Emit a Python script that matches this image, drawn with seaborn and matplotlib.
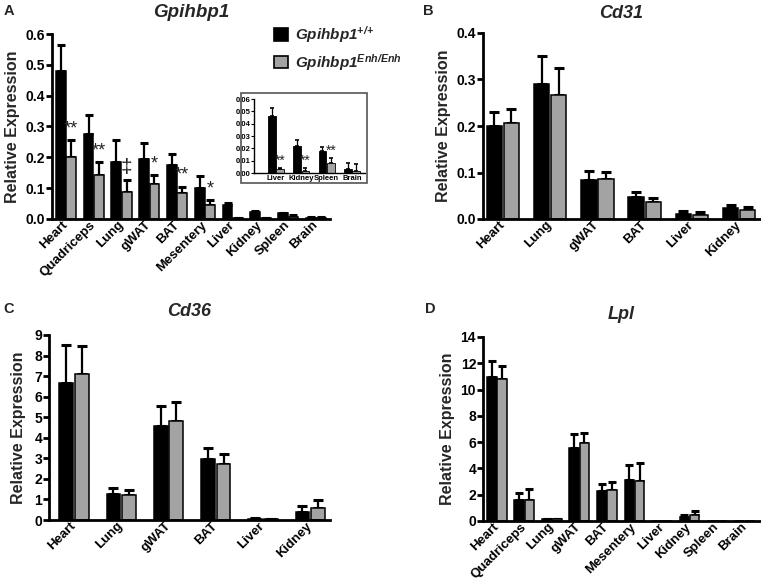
import matplotlib
matplotlib.use("Agg")
import matplotlib.pyplot as plt
import seaborn as sns
import pandas as pd
import numpy as np
from matplotlib.patches import Patch, Rectangle
from matplotlib.ticker import FormatStrFormatter

# ---- data ----
gpi_tissues = ["Heart", "Quadriceps", "Lung", "gWAT", "BAT", "Mesentery", "Liver", "Kidney", "Spleen", "Brain"]
gpi_wt = [0.480, 0.276, 0.186, 0.196, 0.176, 0.100, 0.046, 0.022, 0.018, 0.003]
gpi_wt_sem = [0.084, 0.062, 0.071, 0.052, 0.034, 0.040, 0.007, 0.005, 0.003, 0.005]
gpi_enh = [0.200, 0.142, 0.089, 0.113, 0.085, 0.044, 0.003, 0.002, 0.008, 0.002]
gpi_enh_sem = [0.055, 0.043, 0.038, 0.030, 0.020, 0.018, 0.001, 0.002, 0.004, 0.005]
gpi_marks = ["**", "**", "\u2021", "*", "**", "*", "", "", "", ""]

inset_tissues = ["Liver", "Kidney", "Spleen", "Brain"]
inset_marks = ["**", "**", "**", ""]

cd31_tissues = ["Heart", "Lung", "gWAT", "BAT", "Liver", "Kidney"]
cd31_wt = [0.200, 0.291, 0.084, 0.047, 0.011, 0.023]
cd31_wt_sem = [0.031, 0.060, 0.020, 0.010, 0.006, 0.007]
cd31_enh = [0.206, 0.266, 0.086, 0.036, 0.009, 0.020]
cd31_enh_sem = [0.030, 0.059, 0.015, 0.009, 0.005, 0.005]

cd36_tissues = ["Heart", "Lung", "gWAT", "BAT", "Liver", "Kidney"]
cd36_wt = [6.67, 1.27, 4.58, 2.97, 0.05, 0.38]
cd36_wt_sem = [1.86, 0.31, 0.98, 0.52, 0.03, 0.29]
cd36_enh = [7.11, 1.21, 4.80, 2.74, 0.04, 0.60]
cd36_enh_sem = [1.34, 0.27, 0.96, 0.47, 0.03, 0.35]

lpl_tissues = ["Heart", "Quadriceps", "Lung", "gWAT", "BAT", "Mesentery", "Liver", "Kidney", "Spleen", "Brain"]
lpl_wt = [10.95, 1.62, 0.12, 5.53, 2.26, 3.14, 0.0, 0.30, 0.0, 0.0]
lpl_wt_sem = [1.25, 0.48, 0.05, 1.11, 0.55, 1.12, 0.0, 0.18, 0.0, 0.0]
lpl_enh = [10.82, 1.62, 0.14, 5.96, 2.36, 3.02, 0.0, 0.46, 0.0, 0.0]
lpl_enh_sem = [0.98, 0.84, 0.04, 0.76, 0.61, 1.42, 0.0, 0.28, 0.0, 0.0]

GENO = ["wt", "enh"]
COLORS = {"wt": "black", "enh": "#a3a3a3"}

sns.set_theme(style="ticks")
plt.rcParams["font.family"] = ["Liberation Sans", "DejaVu Sans"]
plt.rcParams["font.weight"] = "bold"
plt.rcParams["axes.titleweight"] = "bold"
plt.rcParams["axes.labelweight"] = "bold"
plt.rcParams["mathtext.fontset"] = "custom"
plt.rcParams["mathtext.rm"] = "Liberation Sans:italic:bold"
plt.rcParams["mathtext.it"] = "Liberation Sans:italic:bold"

W, H = 761, 586
fig = plt.figure(figsize=(W / 100, H / 100), dpi=100)


def px_axes(l, t, r, b):
    return fig.add_axes([l / W, 1 - b / H, (r - l) / W, (b - t) / H])


def bar_panel(ax, tissues, wt, wt_sem, enh, enh_sem, width, gap, lw=1.1,
              capsize=3, elw=1.6, capw=2.2):
    n = len(tissues)
    df = pd.DataFrame({"tissue": tissues * 2,
                       "geno": ["wt"] * n + ["enh"] * n,
                       "value": wt + enh})
    sns.barplot(data=df, x="tissue", y="value", hue="geno", order=tissues,
                hue_order=GENO, palette=COLORS, saturation=1, width=width,
                gap=gap, errorbar=None, edgecolor="black", linewidth=lw,
                legend=False, ax=ax)
    tops = []
    for cont, vals, sems in zip(ax.containers, [wt, enh], [wt_sem, enh_sem]):
        xs = np.array([b.get_x() + b.get_width() / 2 for b in cont])
        vals = np.array(vals)
        sems = np.array(sems)
        keep = sems > 0
        ax.errorbar(xs[keep], vals[keep], yerr=[np.zeros(keep.sum()), sems[keep]],
                    fmt="none", ecolor="black", elinewidth=elw, capsize=capsize,
                    capthick=capw, zorder=0.5)
        tops.append((xs, vals + sems))
    ax.set_xlabel("")
    ax.set_ylabel("")
    return tops


def style_axes(ax, yticks, fmt, spine_lw=2.0, tick_fs=10, xlab_fs=9.5, rot=45):
    sns.despine(ax=ax)
    for s in ["left", "bottom"]:
        ax.spines[s].set_linewidth(spine_lw)
        ax.spines[s].set_color("black")
    ax.set_yticks(yticks)
    ax.set_ylim(yticks[0], yticks[-1])
    ax.yaxis.set_major_formatter(FormatStrFormatter(fmt))
    ax.tick_params(axis="y", width=spine_lw, length=4, labelsize=tick_fs, pad=1,
                   color="black", labelcolor="black")
    ax.tick_params(axis="x", length=0, labelsize=xlab_fs, pad=3, labelcolor="black")
    for lab in ax.get_yticklabels():
        lab.set_fontweight("bold")
    for lab in ax.get_xticklabels():
        lab.set_fontweight("bold")
        if rot:
            lab.set_rotation(rot)
            lab.set_ha("right")
            lab.set_va("center")
            lab.set_rotation_mode("anchor")
    ax.set_facecolor("white")


def add_marks(ax, xs, tops, marks, fs=13, dy=2):
    for x, t, m in zip(xs, tops, marks):
        if m:
            size = fs * 1.15 if m == "\u2021" else fs
            ax.annotate(m, (x, t), xytext=(0, dy), textcoords="offset points",
                        ha="center", va="bottom", fontsize=size, fontweight="normal",
                        fontstyle="normal")


# ---- A: Gpihbp1 ----
axA = px_axes(52, 34, 330, 219)
tops = bar_panel(axA, gpi_tissues, gpi_wt, gpi_wt_sem, gpi_enh, gpi_enh_sem, 0.74, 0.05)
axA.set_xlim(-0.5, 9.5)
style_axes(axA, np.arange(0, 0.61, 0.1), "%.1f")
add_marks(axA, tops[1][0], tops[1][1], gpi_marks)
axA.set_ylabel("Relative Expression", fontsize=11.5, labelpad=4)
axA.set_title("Gpihbp1", style="italic", fontsize=13.5, pad=12)

# inset
axI = px_axes(254, 99, 365, 173)
k = len(gpi_tissues) - len(inset_tissues)
topsI = bar_panel(axI, inset_tissues, gpi_wt[k:], gpi_wt_sem[k:], gpi_enh[k:],
                  gpi_enh_sem[k:], 0.66, 0.08, lw=0.6, capsize=1.6, elw=0.9, capw=1.2)
axI.set_xlim(-0.87, 3.52)
style_axes(axI, np.arange(0, 0.061, 0.01), "%.2f", spine_lw=1.0, tick_fs=5.5,
           xlab_fs=5.5, rot=0)
axI.tick_params(axis="y", length=2, width=0.8, pad=0.5)
axI.tick_params(axis="x", pad=1.5)
add_marks(axI, topsI[1][0], topsI[1][1], inset_marks, fs=10, dy=0.5)
fig.add_artist(Rectangle((241 / W, 1 - 183 / H), 126 / W, 90 / H,
                         transform=fig.transFigure, fill=False,
                         edgecolor="#555555", linewidth=1.2))

# legend
handles = [Patch(facecolor="black", edgecolor="black", linewidth=1.2,
                 label="Gpihbp1$^{\\mathrm{{+}/{+}}}$"),
           Patch(facecolor="#a3a3a3", edgecolor="black", linewidth=1.2,
                 label="Gpihbp1$^{\\mathrm{Enh/Enh}}$")]
fig.legend(handles=handles, loc="upper left", bbox_to_anchor=(274 / W, 1 - 24 / H),
           frameon=False, prop={"style": "italic", "weight": "bold", "size": 11},
           handlelength=0.9, handleheight=0.9, handletextpad=0.5,
           labelspacing=0.45, borderpad=0, borderaxespad=0)

# ---- B: Cd31 ----
axB = px_axes(483, 33, 760, 219)
bar_panel(axB, cd31_tissues, cd31_wt, cd31_wt_sem, cd31_enh, cd31_enh_sem, 0.72, 0.1,
          capsize=3.5)
axB.set_xlim(-0.42, 5.44)
style_axes(axB, np.arange(0, 0.41, 0.1), "%.1f")
axB.set_ylabel("Relative Expression", fontsize=11.5, labelpad=4)
axB.set_title("Cd31", style="italic", fontsize=13, pad=11)

# ---- C: Cd36 ----
axC = px_axes(49, 335, 330, 520)
bar_panel(axC, cd36_tissues, cd36_wt, cd36_wt_sem, cd36_enh, cd36_enh_sem, 0.66, 0.12,
          capsize=3.5)
axC.set_xlim(-0.53, 5.42)
style_axes(axC, np.arange(0, 10, 1), "%d")
axC.set_ylabel("Relative Expression", fontsize=11.5, labelpad=6)
axC.set_title("Cd36", style="italic", fontsize=13, pad=14)

# ---- D: Lpl ----
axD = px_axes(483, 337, 760, 521)
bar_panel(axD, lpl_tissues, lpl_wt, lpl_wt_sem, lpl_enh, lpl_enh_sem, 0.74, 0.05)
axD.set_xlim(-0.5, 9.56)
style_axes(axD, np.arange(0, 15, 2), "%d")
axD.set_ylabel("Relative Expression", fontsize=11.5, labelpad=4)
axD.set_title("Lpl", style="italic", fontsize=13, pad=13)

# panel letters
for x, y, s in [(4, 4, "A"), (423, 4, "B"), (3, 302, "C"), (425, 302, "D")]:
    fig.text(x / W, 1 - y / H, s, fontsize=10.5, fontweight="bold", va="top", ha="left")

fig.savefig("out.png", dpi=100, facecolor="white")
